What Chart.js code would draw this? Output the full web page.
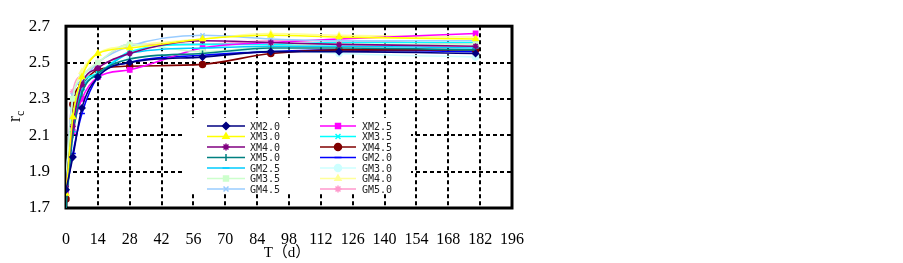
<!DOCTYPE html>
<html>
<head>
<meta charset="utf-8">
<script src="https://cdn.jsdelivr.net/npm/chart.js@4"></script>
<style>
  html, body { margin: 0; padding: 0; background: #fff; }
  #wrap { width: 903px; height: 263px; }
</style>
</head>
<body>
<div id="wrap"><canvas id="chart-rc" width="903" height="263"></canvas></div>
<script>
// rc vs curing time T (d)
const DAYS = [0, 3, 7, 14, 28, 60, 90, 120, 180];
const X_TICKS = [0, 14, 28, 42, 56, 70, 84, 98, 112, 126, 140, 154, 168, 182, 196];
const Y_TICKS = [1.7, 1.9, 2.1, 2.3, 2.5, 2.7];

const SERIES_NAMES = ["XM2.0", "XM3.0", "XM4.0", "XM5.0", "GM2.5", "GM3.5", "GM4.5",
                      "XM2.5", "XM3.5", "XM4.5", "GM2.0", "GM3.0", "GM4.0", "GM5.0"];

const XM20 = [1.80, 1.98, 2.25, 2.42, 2.50, 2.53, 2.56, 2.56, 2.55];
const XM30 = [1.78, 2.20, 2.42, 2.55, 2.58, 2.63, 2.65, 2.64, 2.63];
const XM40 = [1.82, 2.15, 2.38, 2.47, 2.55, 2.62, 2.61, 2.60, 2.59];
const XM50 = [1.70, 2.10, 2.33, 2.44, 2.52, 2.55, 2.58, 2.58, 2.57];
const GM25 = [1.84, 2.12, 2.35, 2.43, 2.55, 2.58, 2.59, 2.59, 2.58];
const GM35 = [1.85, 2.30, 2.42, 2.50, 2.60, 2.56, 2.59, 2.60, 2.60];
const GM45 = [1.86, 2.32, 2.40, 2.50, 2.59, 2.65, 2.63, 2.62, 2.62];
const XM25 = [1.79, 2.12, 2.30, 2.42, 2.46, 2.58, 2.61, 2.63, 2.66];
const XM35 = [1.83, 2.20, 2.38, 2.44, 2.56, 2.60, 2.60, 2.61, 2.61];
const XM45 = [1.75, 2.27, 2.38, 2.46, 2.48, 2.49, 2.55, 2.57, 2.57];
const GM20 = [1.78, 2.00, 2.22, 2.42, 2.50, 2.54, 2.56, 2.57, 2.56];
const GM30 = [1.83, 2.25, 2.38, 2.45, 2.52, 2.55, 2.57, 2.55, 2.53];
const GM40 = [1.81, 2.28, 2.45, 2.55, 2.59, 2.63, 2.66, 2.65, 2.64];
const GM50 = [1.82, 2.34, 2.43, 2.50, 2.60, 2.60, 2.62, 2.62, 2.60];

const SERIES_VALUES = [XM20, XM30, XM40, XM50, GM25, GM35, GM45,
                       XM25, XM35, XM45, GM20, GM30, GM40, GM50];

const COLORS = ["#000080", "#FFFF00", "#800080", "#008080", "#00CCFF", "#CCFFCC", "#99CCFF",
                "#FF00FF", "#00FFFF", "#800000", "#0000FF", "#CCFFFF", "#FFFF99", "#FF99CC"];
const MARKERS = ["rectRot", "triangle", "star", "line", "line", "rect", "crossRot",
                 "rect", "crossRot", "circle", "line", "circle", "triangle", "star"];
const MARKER_ROT = [0, 0, 0, 90, 0, 0, 0, 0, 0, 0, 0, 0, 0, 0];

const datasets = SERIES_NAMES.map((name, i) => ({
  label: name,
  data: DAYS.map((d, k) => ({ x: d, y: SERIES_VALUES[i][k] })),
  borderColor: COLORS[i],
  backgroundColor: COLORS[i],
  pointBackgroundColor: COLORS[i],
  pointBorderColor: COLORS[i],
  pointStyle: MARKERS[i],
  pointRotation: MARKER_ROT[i],
  pointRadius: 3,
  pointBorderWidth: 1.5,
  borderWidth: 1.6,
  cubicInterpolationMode: "monotone",
  fill: false
}));

// frame around plot area (thick black)
const framePlugin = {
  id: "frame",
  beforeDatasetsDraw(chart) {
    const a = chart.chartArea, ctx = chart.ctx;
    ctx.save();
    ctx.strokeStyle = "#000";
    ctx.lineWidth = 3;
    ctx.strokeRect(a.left, a.top, a.right - a.left, a.bottom - a.top);
    ctx.restore();
  }
};

// legend box inside plot + axis titles
const extrasPlugin = {
  id: "extras",
  afterDatasetsDraw(chart) {
    const ctx = chart.ctx;
    ctx.save();
    ctx.fillStyle = "#fff";
    ctx.fillRect(184, 118, 227, 74);

    const rowY = [126, 136.5, 147, 157.5, 168, 178.5, 189];
    const cols = [{ x0: 207, x1: 245, mx: 226, tx: 250 }, { x0: 320, x1: 356, mx: 338, tx: 362 }];
    ctx.font = "10px 'DejaVu Sans Mono'";
    ctx.textBaseline = "middle";
    SERIES_NAMES.forEach((name, i) => {
      const c = cols[i < 7 ? 0 : 1];
      const y = rowY[i % 7];
      ctx.strokeStyle = COLORS[i];
      ctx.fillStyle = COLORS[i];
      ctx.lineWidth = 1.6;
      ctx.beginPath();
      ctx.moveTo(c.x0, y);
      ctx.lineTo(c.x1, y);
      ctx.stroke();
      ctx.lineWidth = 1.5;
      Chart.helpers.drawPoint(ctx, {
        pointStyle: MARKERS[i], rotation: MARKER_ROT[i], radius: 3.5, borderWidth: 1.5
      }, c.mx, y);
      ctx.fillStyle = "#222";
      ctx.fillText(name, c.tx, y + 1);
    });

    // y title: r with subscript c
    ctx.fillStyle = "#000";
    ctx.translate(20, 122);
    ctx.rotate(-Math.PI / 2);
    ctx.textBaseline = "alphabetic";
    ctx.font = "18px 'Liberation Serif'";
    ctx.fillText("r", 0, 0);
    const w = ctx.measureText("r").width;
    ctx.font = "12px 'Liberation Serif'";
    ctx.fillText("c", w, 4);
    ctx.restore();

    // x title
    ctx.save();
    ctx.fillStyle = "#000";
    ctx.font = "15px 'Liberation Serif', 'Noto Sans CJK SC'";
    ctx.textAlign = "center";
    ctx.textBaseline = "middle";
    ctx.fillText("T（d）", 287, 253);
    ctx.restore();
  }
};

new Chart(document.getElementById("chart-rc").getContext("2d"), {
  type: "line",
  data: { datasets },
  options: {
    responsive: false,
    animation: false,
    layout: { padding: { top: 13, right: 391, left: 0, bottom: 0 } },
    plugins: { legend: { display: false }, tooltip: { enabled: false } },
    scales: {
      x: {
        type: "linear",
        min: 0,
        max: 196,
        afterFit: (s) => { s.height = 55; },
        afterBuildTicks: (s) => { s.ticks = X_TICKS.map(v => ({ value: v })); },
        ticks: {
          padding: 22,
          maxRotation: 0,
          autoSkip: false,
          color: "#000",
          font: { family: "'Liberation Serif'", size: 16 }
        },
        grid: { color: "#000", lineWidth: 2, drawTicks: false },
        border: { display: false, dash: [4, 3] }
      },
      y: {
        min: 1.7,
        max: 2.7,
        afterFit: (s) => { s.width = 66; },
        afterBuildTicks: (s) => { s.ticks = Y_TICKS.map(v => ({ value: v })); },
        ticks: {
          padding: 16,
          color: "#000",
          font: { family: "'Liberation Serif'", size: 17 },
          callback: (v) => Number(v).toFixed(1)
        },
        grid: { color: "#000", lineWidth: 2, drawTicks: false },
        border: { display: false, dash: [4, 3] }
      }
    }
  },
  plugins: [framePlugin, extrasPlugin]
});
</script>
</body>
</html>
